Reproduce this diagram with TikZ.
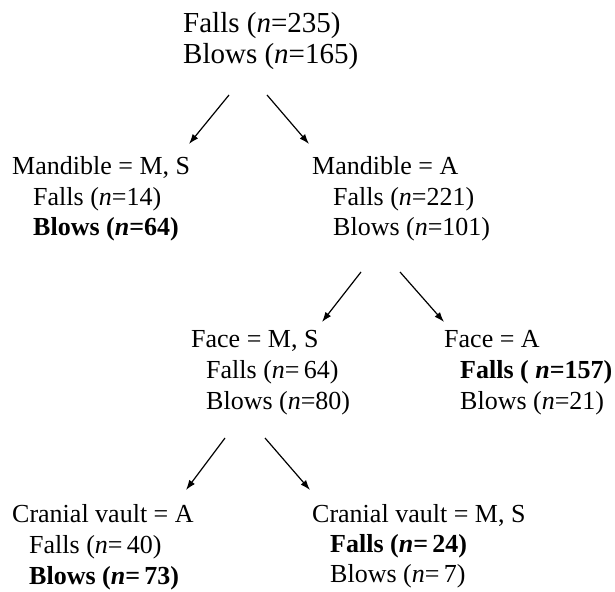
\documentclass[tikz,border=0pt]{standalone}
\usepackage{fontspec}
\setmainfont{Liberation Serif}
\usetikzlibrary{arrows.meta}
\tikzset{
  txt/.style={anchor=base west, inner sep=0pt, font=\fontsize{26}{30}\selectfont},
  toptxt/.style={anchor=base west, inner sep=0pt, font=\fontsize{29}{32}\selectfont},
  arr/.style={-{Latex[length=10pt,width=7pt]}, line width=1.2pt},
}
\newcommand{\nn}{\textit{n}}
\begin{document}
\begin{tikzpicture}[x=1pt,y=1pt]
\useasboundingbox (0,0) rectangle (615,591);
% top
\node[toptxt] (t1) at (183,558) {Falls (\nn=235)};
\node[toptxt] (t2) at (183,527) {Blows (\nn=165)};
% mandible
\node[txt] (m1a) at (12,416) {Mandible = M, S};
\node[txt] (m1b) at (33,385) {Falls (\nn=14)};
\node[txt] (m1c) at (33,355) {\textbf{Blows (\nn=64)}};
\node[txt] (m2a) at (312,416) {Mandible = A};
\node[txt] (m2b) at (333,385) {Falls (\nn=221)};
\node[txt] (m2c) at (333,355) {Blows (\nn=101)};
% face
\node[txt] (f1a) at (191,243) {Face = M, S};
\node[txt] (f1b) at (206,212) {Falls (\nn=\,64)};
\node[txt] (f1c) at (206,181) {Blows (\nn=80)};
\node[txt] (f2a) at (444,243) {Face = A};
\node[txt] (f2b) at (460,212) {\textbf{Falls ( \nn=157)}};
\node[txt] (f2c) at (460,181) {Blows (\nn=21)};
% cranial vault
\node[txt] (c1a) at (12,68) {Cranial vault = A};
\node[txt] (c1b) at (29,37) {Falls (\nn=\,40)};
\node[txt] (c1c) at (29,7) {\textbf{Blows (\nn=\,73)}};
\node[txt] (c2a) at (312,68) {Cranial vault = M, S};
\node[txt] (c2b) at (330,38) {\textbf{Falls (\nn=\,24)}};
\node[txt] (c2c) at (330,9) {Blows (\nn=\,7)};
% arrow ends
\coordinate (a1s) at (229,496); \coordinate (a1e) at (189,447);
\coordinate (a2s) at (267,496); \coordinate (a2e) at (309,447);
\coordinate (a3s) at (361,319); \coordinate (a3e) at (322,269);
\coordinate (a4s) at (400,319); \coordinate (a4e) at (444,269);
\coordinate (a5s) at (225,153); \coordinate (a5e) at (186,101);
\coordinate (a6s) at (265,153); \coordinate (a6e) at (310,101);
\draw[arr] (a1s) -- (a1e);
\draw[arr] (a2s) -- (a2e);
\draw[arr] (a3s) -- (a3e);
\draw[arr] (a4s) -- (a4e);
\draw[arr] (a5s) -- (a5e);
\draw[arr] (a6s) -- (a6e);
\end{tikzpicture}
\end{document}
